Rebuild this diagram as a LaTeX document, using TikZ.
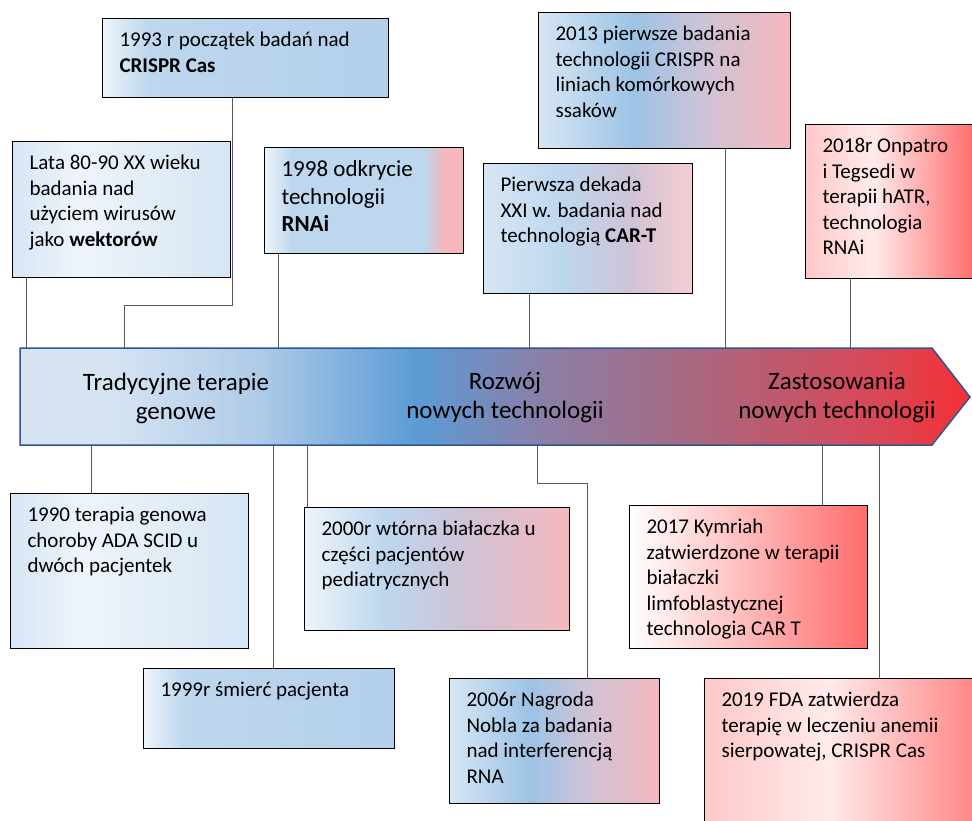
\documentclass[tikz,border=0pt]{standalone}
\usepackage{fontspec}
\setmainfont{Carlito}
\usepackage{xcolor}
\definecolor{pA}{HTML}{D6E4F2}
\definecolor{pB}{HTML}{AFCBE8}
\definecolor{pC}{HTML}{5B9BD5}
\definecolor{pD}{HTML}{8A80A8}
\definecolor{pE}{HTML}{A86880}
\definecolor{pG}{HTML}{D84858}
\definecolor{pF}{HTML}{F53035}
\definecolor{jasny}{HTML}{EEF4FA}
\definecolor{nieb}{HTML}{BDD7EE}
\definecolor{nieb2}{HTML}{B4CFEA}
\definecolor{nieb3}{HTML}{9DC3E6}
\definecolor{blady}{HTML}{D6E6F4}
\definecolor{fiolet}{HTML}{CFC3D6}
\definecolor{roz}{HTML}{F4B8BC}
\definecolor{roz2}{HTML}{F6CDD2}
\definecolor{czer}{HTML}{FF6B6B}
\definecolor{czerJ}{HTML}{FFC8C8}
\definecolor{obwod}{HTML}{2F5597}
\definecolor{kreska}{HTML}{595959}
\pgfdeclarehorizontalshading{pasek}{100bp}{color(0bp)=(pA); color(29.8bp)=(pA); color(37.5bp)=(pB); color(45.9bp)=(pC); color(52.3bp)=(pD); color(60.3bp)=(pE); color(70bp)=(pG); color(75bp)=(pF); color(100bp)=(pF)}
\pgfdeclarehorizontalshading{niebieski}{100bp}{color(0bp)=(jasny); color(25bp)=(jasny); color(33bp)=(nieb); color(75bp)=(nieb2); color(100bp)=(nieb2)}
\pgfdeclarehorizontalshading{bladoniebieski}{100bp}{color(0bp)=(blady); color(25bp)=(blady); color(40bp)=(jasny); color(75bp)=(blady); color(100bp)=(blady)}
\pgfdeclarehorizontalshading{niebroz}{100bp}{color(0bp)=(nieb); color(25bp)=(jasny); color(32bp)=(nieb); color(65bp)=(nieb); color(70bp)=(roz); color(75bp)=(roz); color(100bp)=(roz)}
\pgfdeclarehorizontalshading{mieszany}{100bp}{color(0bp)=(blady); color(25bp)=(blady); color(44bp)=(nieb); color(60bp)=(fiolet); color(75bp)=(roz2); color(100bp)=(roz2)}
\pgfdeclarehorizontalshading{mieszany2}{100bp}{color(0bp)=(blady); color(25bp)=(blady); color(44bp)=(nieb3); color(58bp)=(fiolet); color(75bp)=(roz); color(100bp)=(roz)}
\pgfdeclarehorizontalshading{mieszany3}{100bp}{color(0bp)=(jasny); color(25bp)=(jasny); color(40bp)=(nieb); color(55bp)=(fiolet); color(75bp)=(roz); color(100bp)=(roz)}
\pgfdeclarehorizontalshading{czerwony}{100bp}{color(0bp)=(czerJ); color(25bp)=(czerJ); color(45bp)=(red!8); color(75bp)=(czer); color(100bp)=(czer)}
\pgfdeclarehorizontalshading{czerwony2}{100bp}{color(0bp)=(white); color(25bp)=(white); color(45bp)=(czerJ); color(75bp)=(czer); color(100bp)=(czer)}
\newcommand{\opis}[3]{\parbox[c][\dimexpr#2pt-20pt\relax][t]{\dimexpr#1pt-24pt\relax}{\raggedright\strut #3}}

\begin{document}
\begin{tikzpicture}[x=1pt, y=-1pt,
	ramka/.style={draw=black, line width=1.1pt, inner xsep=17pt, inner ysep=10pt, anchor=north west, font=\fontsize{21}{25.6}\selectfont},
	linia/.style={draw=kreska, line width=1pt},
	etykieta/.style={align=center, font=\fontsize{25}{29}\selectfont}]
				\useasboundingbox (0,0) rectangle (972,820);
				\clip (0,0) rectangle (972,820);
				\shade[shading=pasek, draw=obwod, line width=1.5pt] (20,348) -- (932,348) -- (970,397) -- (932,445) -- (20,445) -- cycle;
				\node[etykieta] (M) at (176,398){Tradycyjne terapie\\genowe};
				\node[etykieta] (N) at (505,398){Rozwój\\nowych technologii};
				\node[etykieta] (O) at (837,398){Zastosowania\\nowych technologii};
				\node[ramka, shading=niebieski] (A) at (102,18){\opis{276}{79}{1993 r początek badań nad\\\textbf{CRISPR Cas}}};
				\node[ramka, shading=bladoniebieski] (B) at (12,141){\opis{208}{136}{Lata 80-90 XX wieku\\badania nad\\użyciem wirusów\\jako \textbf{wektorów}}};
				\node[ramka, shading=niebroz, font=\fontsize{23}{27.5}\selectfont] (C) at (264,147){\opis{189}{106}{1998 odkrycie\\technologii\\\textbf{RNAi}}};
				\node[ramka, shading=mieszany] (D) at (483,163){\opis{199}{130}{Pierwsza dekada\\XXI w. badania nad\\technologią \textbf{CAR-T}}};
				\node[ramka, shading=mieszany2] (E) at (538,12){\opis{242}{136}{2013 pierwsze badania\\technologii CRISPR na\\liniach komórkowych\\ssaków}};
				\node[ramka, shading=czerwony] (F) at (805,124){\opis{160}{154}{2018r Onpatro\\i Tegsedi w\\terapii hATR,\\technologia\\RNAi}};
				\node[ramka, shading=bladoniebieski] (G) at (10,493){\opis{228}{155}{1990 terapia genowa\\choroby ADA SCID u\\dwóch pacjentek}};
				\node[ramka, shading=niebieski] (H) at (143,668){\opis{241}{80}{1999r śmierć pacjenta}};
				\node[ramka, shading=mieszany3] (I) at (304,507){\opis{255}{123}{2000r wtórna białaczka u\\części pacjentów\\pediatrycznych}};
				\node[ramka, shading=mieszany2] (J) at (449,678){\opis{200}{125}{2006r Nagroda\\Nobla za badania\\nad interferencją\\RNA}};
				\node[ramka, shading=czerwony2] (K) at (629,505){\opis{228}{143}{2017 Kymriah\\zatwierdzone w terapii\\białaczki\\limfoblastycznej\\technologia CAR T}};
				\node[ramka, shading=czerwony] (L) at (704,678){\opis{300}{170}{2019 FDA zatwierdza\\terapię w leczeniu anemii\\sierpowatej, CRISPR Cas}};
				\coordinate (b1) at (26,348);
				\coordinate (b2) at (124,348);
				\coordinate (a2) at (232,305);
				\coordinate (b3) at (278,348);
				\coordinate (b4) at (529,348);
				\coordinate (b5) at (725,348);
				\coordinate (b6) at (850,348);
				\coordinate (d1) at (91,445);
				\coordinate (d2) at (273,445);
				\coordinate (d3) at (307,445);
				\coordinate (d4) at (537,445);
				\coordinate (c4) at (587,483);
				\coordinate (d5) at (822,445);
				\coordinate (d6) at (879,445);
				\draw[linia] (B.south -| b1) -- (b1);
				\draw[linia] (A.south -| a2) -- (a2) -| (b2);
				\draw[linia] (C.south -| b3) -- (b3);
				\draw[linia] (D.south -| b4) -- (b4);
				\draw[linia] (E.south -| b5) -- (b5);
				\draw[linia] (F.south -| b6) -- (b6);
				\draw[linia] (d1) -- (d1 |- G.north);
				\draw[linia] (d2) -- (d2 |- H.north);
				\draw[linia] (d3) -- (d3 |- I.north);
				\draw[linia] (d4) |- (c4) -- (c4 |- J.north);
				\draw[linia] (d5) -- (d5 |- K.north);
				\draw[linia] (d6) -- (d6 |- L.north);
			\end{tikzpicture}
\end{document}
